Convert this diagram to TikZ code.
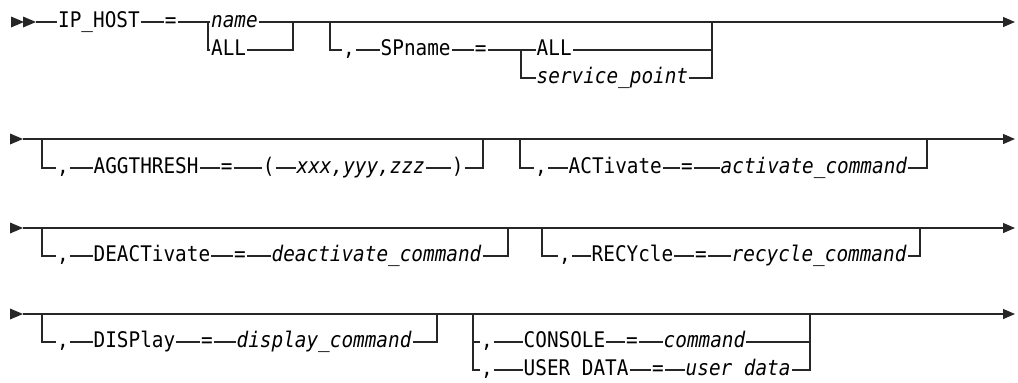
\documentclass[tikz,border=0pt]{standalone}
\usepackage{fontspec}
\setmonofont[FakeStretch=0.9]{DejaVu Sans Mono}
\usetikzlibrary{arrows.meta}

\tikzset{
  rail/.style={line width=1.3pt,black!85},
  endtip/.style={rail,-{Triangle[length=12pt,width=10pt]}},
  head/.style={fill=black!85},
  kw/.style={anchor=west,inner xsep=1pt,inner ysep=0pt,text height=14.5pt,text depth=3pt,
    font=\fontsize{21.5}{25}\selectfont\ttfamily},
  var/.style={kw,font=\fontsize{21.5}{25}\selectfont\ttfamily\itshape},
}

\begin{document}
\begin{tikzpicture}[x=1pt,y=-1pt]
\useasboundingbox (0,0) rectangle (1018,383);
% start and end of the four rails
\fill[head] (11,16.5) -- (24,22) -- (11,27.5) -- cycle;
\fill[head] (23,16.5) -- (36,22) -- (23,27.5) -- cycle;
\coordinate (r1s) at (36,22);
\coordinate (r1e) at (1015,22);
\foreach \i/\y in {2/139,3/228,4/314}{
  \fill[head] (10,\y-5.5) -- (23,\y) -- (10,\y+5.5) -- cycle;
  \coordinate (r\i s) at (23,\y);
  \coordinate (r\i e) at (1015,\y);
}

% row 1: IP_HOST = name|ALL [, SPname = ALL|service_point]
\node[kw] (iphost) at (57,22) {IP\_HOST};
\node[kw] (eqa) at (163.6,22) {=};
\coordinate (j1a) at (208,22);
\node[var] (name) at (210,22) {name};
\node[kw] (all) at (210,50) {ALL};
\coordinate (j1b) at (293,22);
\coordinate (j1c) at (330,22);
\node[kw] (cma1) at (342,50) {,};
\node[kw] (spname) at (379.5,50) {SPname};
\node[kw] (eqb) at (473.6,50) {=};
\coordinate (j1d) at (521,50);
\node[kw] (allb) at (535.5,50) {ALL};
\node[var] (svcpt) at (535.5,78) {service\_point};
\coordinate (j1e) at (712,22);
\draw[rail] (r1s) -- (iphost.west);
\draw[rail] (iphost.east) -- (eqa.west);
\draw[rail] (eqa.east) -- (name.west);
\draw[rail] (j1a) |- (all.west);
\draw[rail] (name.east) -- (j1b);
\draw[rail] (all.east) -| (j1b);
\draw[endtip] (j1b) -- (r1e);
\draw[rail] (j1c) |- (cma1.west);
\draw[rail] (cma1.east) -- (spname.west);
\draw[rail] (spname.east) -- (eqb.west);
\draw[rail] (eqb.east) -- (allb.west);
\draw[rail] (j1d) |- (svcpt.west);
\draw[rail] (allb.east) -| (j1e);
\draw[rail] (svcpt.east) -| (j1e);

% row 2: AGGTHRESH, ACTivate
\draw[endtip] (r2s) -- (r2e);
\coordinate (j2a) at (42,139);
\node[kw] (cma2a) at (56,168) {,};
\node[kw] (agg) at (92.5,168) {AGGTHRESH};
\node[kw] (eq2a) at (219.6,168) {=};
\node[kw] (lpar) at (261.6,168) {(};
\node[var] (xyz) at (295.5,168) {xxx,yyy,zzz};
\node[kw] (rpar) at (450.6,168) {)};
\coordinate (j2b) at (483,139);
\draw[rail] (j2a) |- (cma2a.west);
\draw[rail] (cma2a.east) -- (agg.west);
\draw[rail] (agg.east) -- (eq2a.west);
\draw[rail] (eq2a.east) -- (lpar.west);
\draw[rail] (lpar.east) -- (xyz.west);
\draw[rail] (xyz.east) -- (rpar.west);
\draw[rail] (rpar.east) -| (j2b);
\coordinate (j2c) at (520,139);
\node[kw] (cma2b) at (534,168) {,};
\node[kw] (act) at (567.5,168) {ACTivate};
\node[kw] (eq2b) at (680,168) {=};
\node[var] (actcmd) at (719.5,168) {activate\_command};
\coordinate (j2d) at (927,139);
\draw[rail] (j2c) |- (cma2b.west);
\draw[rail] (cma2b.east) -- (act.west);
\draw[rail] (act.east) -- (eq2b.west);
\draw[rail] (eq2b.east) -- (actcmd.west);
\draw[rail] (actcmd.east) -| (j2d);

% row 3: DEACTivate, RECYcle
\draw[endtip] (r3s) -- (r3e);
\coordinate (j3a) at (42,228);
\node[kw] (cma3a) at (56,256) {,};
\node[kw] (deact) at (92.5,256) {DEACTivate};
\node[kw] (eq3a) at (233,256) {=};
\node[var] (deactcmd) at (270.5,256) {deactivate\_command};
\coordinate (j3b) at (508,228);
\draw[rail] (j3a) |- (cma3a.west);
\draw[rail] (cma3a.east) -- (deact.west);
\draw[rail] (deact.east) -- (eq3a.west);
\draw[rail] (eq3a.east) -- (deactcmd.west);
\draw[rail] (deactcmd.east) -| (j3b);
\coordinate (j3c) at (542,228);
\node[kw] (cma3b) at (558,256) {,};
\node[kw] (recy) at (590.5,256) {RECYcle};
\node[kw] (eq3b) at (694,256) {=};
\node[var] (recycmd) at (730.5,256) {recycle\_command};
\coordinate (j3d) at (920,228);
\draw[rail] (j3c) |- (cma3b.west);
\draw[rail] (cma3b.east) -- (recy.west);
\draw[rail] (recy.east) -- (eq3b.west);
\draw[rail] (eq3b.east) -- (recycmd.west);
\draw[rail] (recycmd.east) -| (j3d);

% row 4: DISPlay, CONSOLE | USER DATA
\draw[endtip] (r4s) -- (r4e);
\coordinate (j4a) at (42,314);
\node[kw] (cma4a) at (56,342) {,};
\node[kw] (disp) at (92.5,342) {DISPlay};
\node[kw] (eq4a) at (200,342) {=};
\node[var] (dispcmd) at (235.5,342) {display\_command};
\coordinate (j4b) at (437,314);
\draw[rail] (j4a) |- (cma4a.west);
\draw[rail] (cma4a.east) -- (disp.west);
\draw[rail] (disp.east) -- (eq4a.west);
\draw[rail] (eq4a.east) -- (dispcmd.west);
\draw[rail] (dispcmd.east) -| (j4b);
\coordinate (j4c) at (473,314);
\node[kw] (cma4b) at (480,342) {,};
\node[kw] (console) at (522.5,342) {CONSOLE};
\node[kw] (eq4b) at (625,342) {=};
\node[var] (cmd) at (662.5,342) {command};
\node[kw] (cma4c) at (480,370) {,};
\node[kw] (userdata) at (522.5,370) {USER DATA};
\node[kw] (eq4c) at (651,370) {=};
\node[var] (udata) at (684.5,370) {user data};
\coordinate (j4d) at (810,314);
\draw[rail] (j4c) |- (cma4c.west);
\draw[rail] (j4c) |- (cma4b.west);
\draw[rail] (cma4b.east) -- (console.west);
\draw[rail] (console.east) -- (eq4b.west);
\draw[rail] (eq4b.east) -- (cmd.west);
\draw[rail] (cmd.east) -| (j4d);
\draw[rail] (cma4c.east) -- (userdata.west);
\draw[rail] (userdata.east) -- (eq4c.west);
\draw[rail] (eq4c.east) -- (udata.west);
\draw[rail] (udata.east) -| (j4d);
\end{tikzpicture}
\end{document}
